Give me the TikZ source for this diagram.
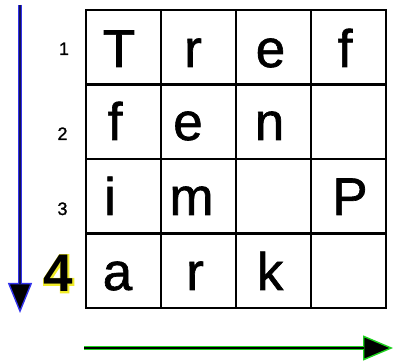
\documentclass[tikz,border=0pt]{standalone}
\usepackage{fontspec}
\setmainfont{Liberation Sans}
\newfontfamily\gridfont[FakeBold=1.2]{Liberation Sans}
\newfontfamily\halofont[FakeBold=5]{Liberation Sans Bold}
\usetikzlibrary{arrows.meta}
\definecolor{halob}{RGB}{50,50,235}
\definecolor{coreb}{RGB}{20,20,90}
\definecolor{halog}{RGB}{30,210,30}
\definecolor{haloy}{RGB}{240,235,40}
\tikzset{
  cell/.style={draw=black, line width=2.4pt},
  letter/.style={anchor=base, inner sep=0pt, font=\fontsize{53}{60}\selectfont\gridfont},
  rowno/.style={anchor=base, inner sep=0pt, font=\fontsize{18}{20}\selectfont\gridfont},
  bignum/.style={anchor=base, inner sep=0pt, font=\fontsize{53}{60}\selectfont\bfseries},
  bighalo/.style={anchor=base, inner sep=0pt, text=haloy, font=\fontsize{53}{60}\selectfont\halofont},
}
\begin{document}
\begin{tikzpicture}[x=1pt, y=-1pt]
\useasboundingbox (0,0) rectangle (394,363);
\fill[white] (0,0) rectangle (394,363);

% 4x4 grid
\foreach \c in {0,...,3}
  \foreach \r in {0,...,3}
    \draw[cell] ({86+75*\c},{10+74.5*\r}) rectangle ++(75,74.5);

% letters
\node[letter] (r1c1) at (119,67) {T};
\node[letter] (r1c2) at (193,67) {r};
\node[letter] (r1c3) at (270.5,67) {e};
\node[letter] (r1c4) at (345,67) {f};
\node[letter] (r2c1) at (115,140) {f};
\node[letter] (r2c2) at (188,140) {e};
\node[letter] (r2c3) at (269.5,140) {n};
\node[letter] (r3c1) at (110,215) {i};
\node[letter] (r3c2) at (191.5,215) {m};
\node[letter] (r3c4) at (350,215) {P};
\node[letter] (r4c1) at (117.5,290) {a};
\node[letter] (r4c2) at (195,290) {r};
\node[letter] (r4c3) at (270,290) {k};

% row numbers
\node[rowno] (n1) at (64,55) {1};
\node[rowno] (n2) at (62.5,140) {2};
\node[rowno] (n3) at (62.5,215) {3};
\node[bighalo] (n4glow) at (58.5,292) {4};
\node[bignum] (n4) at (58.5,292) {4};

% vertical arrow
\coordinate (vtop) at (20,5);
\coordinate (vend) at (20,313);
\coordinate (vbase) at (20,284);
\draw[halob, line width=3.4pt, -{Triangle[length=30pt,width=24pt,fill=black,line width=1.4pt]}] (vtop) -- (vend);
\draw[coreb, line width=1.6pt] (vtop) -- (vbase);

% horizontal arrow
\coordinate (hstart) at (84,348);
\coordinate (hend) at (393,348);
\coordinate (hbase) at (364,348);
\draw[halog, line width=3.4pt, -{Triangle[length=30pt,width=25pt,fill=black,line width=1.4pt]}] (hstart) -- (hend);
\draw[black, line width=1.6pt] (hstart) -- (hbase);
\end{tikzpicture}
\end{document}
